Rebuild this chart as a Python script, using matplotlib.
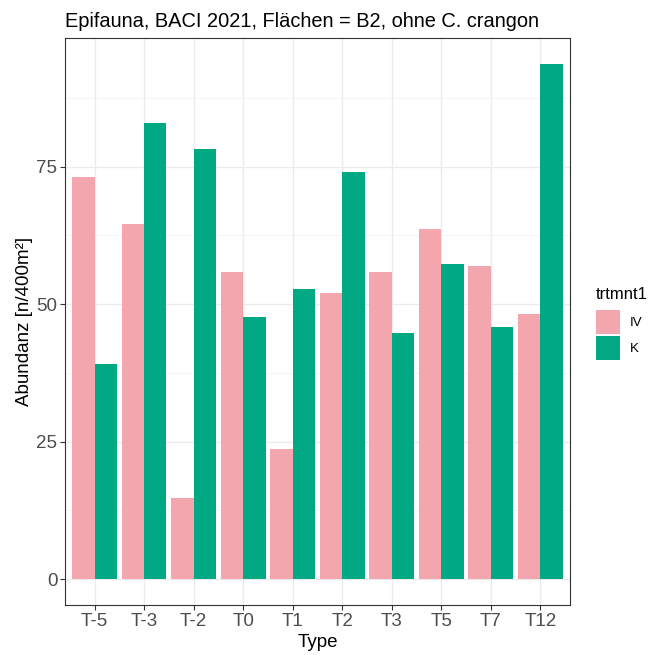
import matplotlib.pyplot as plt
import numpy as np

plt.rcParams['font.family'] = ['Liberation Sans', 'DejaVu Sans']

types = ["T-5", "T-3", "T-2", "T0", "T1", "T2", "T3", "T5", "T7", "T12"]
iv = [73.1, 64.5, 14.8, 55.9, 23.6, 52.0, 55.9, 63.6, 56.9, 48.2]
k = [39.2, 82.9, 78.2, 47.7, 52.7, 74.1, 44.8, 57.4, 45.9, 93.7]
groups = ["IV", "K"]
colors = ["#F4A6AE", "#00A884"]

fig = plt.figure(figsize=(6.48, 6.55), dpi=100)
ax = fig.add_axes([0.1003, 0.0763, 0.7793, 0.8656])

x = np.arange(1, len(types) + 1)
w = 0.45
ax.bar(x - w / 2, iv, width=w, color=colors[0], label=groups[0], zorder=3)
ax.bar(x + w / 2, k, width=w, color=colors[1], label=groups[1], zorder=3)

ymax = max(max(iv), max(k))
ax.set_xlim(0.4, len(types) + 0.6)
ax.set_ylim(-0.05 * ymax, 1.05 * ymax)
ax.set_xticks(x)
ax.set_xticklabels(types)
ax.set_yticks([0, 25, 50, 75])
ax.set_yticks([12.5, 37.5, 62.5, 87.5], minor=True)
ax.grid(which="major", color="#EBEBEB", linewidth=1.0, zorder=0)
ax.grid(which="minor", axis="y", color="#F2F2F2", linewidth=0.6, zorder=0)
ax.tick_params(which="minor", length=0)
ax.tick_params(which="major", length=3.5, width=0.8, color="#333333",
               labelsize=13.5, labelcolor="#4D4D4D", pad=2)
for s in ax.spines.values():
    s.set_color("#333333")
    s.set_linewidth(0.8)

ax.set_xlabel("Type", fontsize=13.5, labelpad=3)
ax.set_ylabel("Abundanz [n/400m²]", fontsize=13.5, labelpad=2.5)
fig.text(0.1003, 0.9588, "Epifauna, BACI 2021, Flächen = B2, ohne C. crangon",
         fontsize=14.4, ha="left", va="baseline")

leg = fig.legend(loc="upper left", bbox_to_anchor=(0.919, 0.562), frameon=False,
                 title="trtmnt1", fontsize=9.5, title_fontsize=12,
                 handlelength=1.82, handleheight=2.42, handletextpad=0.75,
                 labelspacing=0.12, borderpad=0, borderaxespad=0)
leg._legend_box.align = "left"
leg._legend_box.sep = 6

fig.savefig("out.png", dpi=100)
